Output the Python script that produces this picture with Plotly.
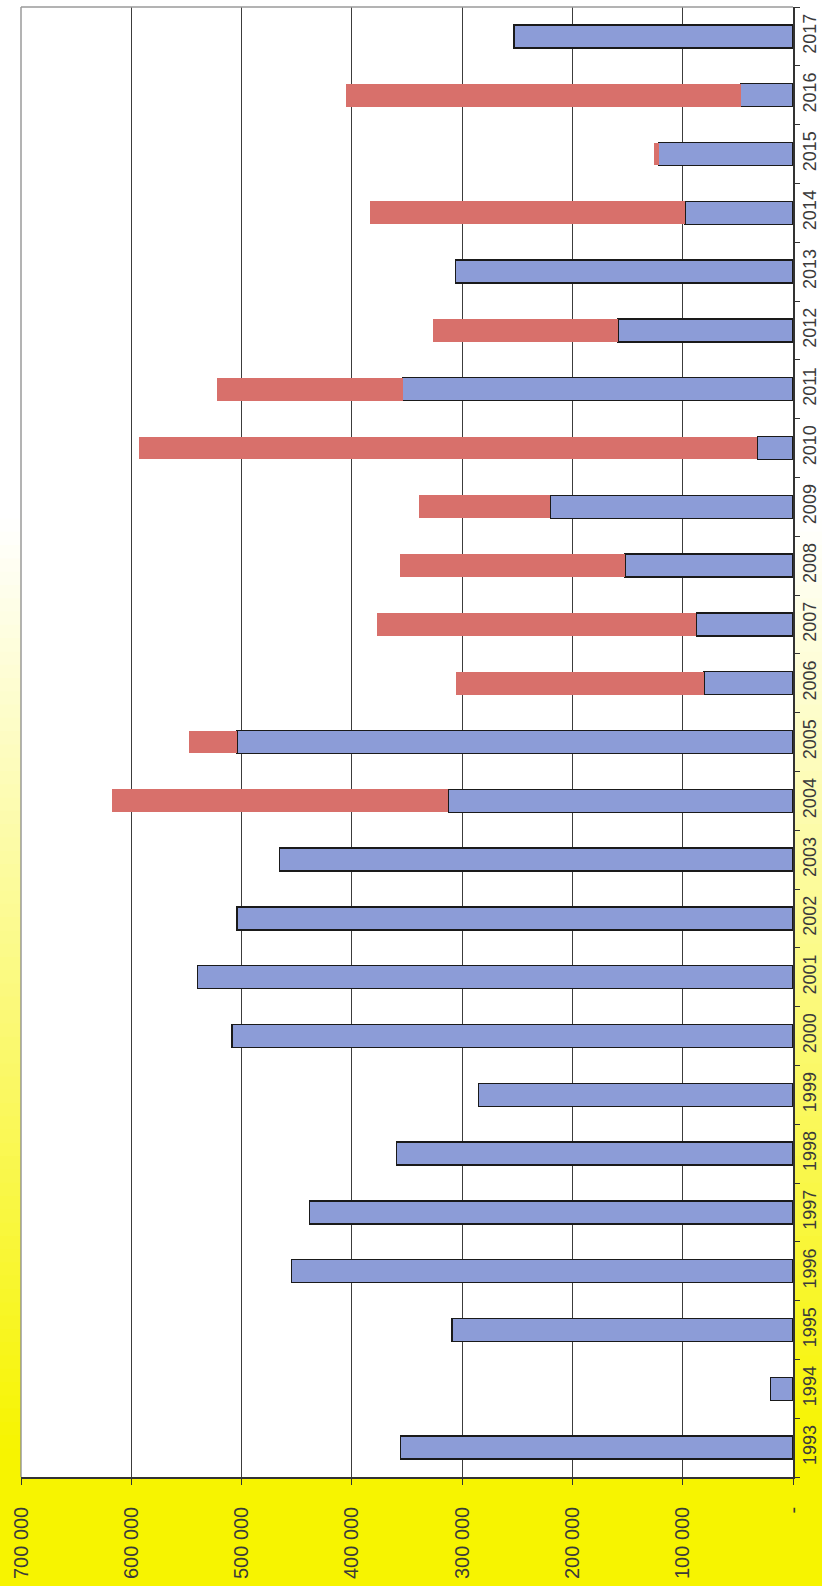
import plotly.graph_objects as go

years = [str(y) for y in range(1993, 2018)]
blue_values = [355700, 20300, 309000, 454700, 438200, 359400, 285100, 508800,
               540000, 504300, 465500, 312400, 504000, 80700, 87700, 152200,
               220000, 32200, 353900, 158700, 306200, 98100, 121900, 47500, 253000]
red_values = [0, 0, 0, 0, 0, 0, 0, 0,
              0, 0, 0, 304800, 43500, 224800, 289500, 203800,
              119200, 560800, 168300, 167700, 0, 285100, 3800, 357700, 0]
tick_values = [0, 100000, 200000, 300000, 400000, 500000, 600000, 700000]
tick_labels = ["-", "100 000", "200 000", "300 000", "400 000", "500 000", "600 000", "700 000"]

BLUE = "#8c9cd7"
RED = "#d8706b"
YELLOW = (247, 244, 0)
FONT = "Liberation Sans"

fig = go.Figure()
fig.add_trace(go.Bar(
    y=years, x=blue_values, orientation="h",
    marker=dict(color=BLUE, line=dict(color="#1a1a1a", width=1.5)),
    hoverinfo="skip",
))
fig.add_trace(go.Bar(
    y=years, x=red_values, orientation="h",
    marker=dict(color=RED, line=dict(color=RED, width=0)),
    hoverinfo="skip",
))

W, H = 822, 1586
ml, mr, mt, mb = 21, 29, 7, 109
pw = W - ml - mr
ph = H - mt - mb

shapes = []
ycol = "rgb(%d,%d,%d)" % YELLOW
shapes.append(dict(type="rect", xref="paper", yref="paper", x0=-0.1, x1=1.1,
                   y0=-0.2, y1=0, fillcolor=ycol, line=dict(width=0), layer="below"))
y_white = 520.0
y_full = 1450.0
n = 70
for i in range(n):
    p0 = y_white + (y_full - y_white) * i / n
    p1 = y_white + (y_full - y_white) * (i + 1) / n
    t = (i + 0.5) / n
    col = "rgb(%d,%d,%d)" % tuple(round(255 + (c - 255) * t) for c in YELLOW)
    for (xa, xb) in [(-0.1, 0), (1, 1.1)]:
        shapes.append(dict(type="rect", xref="paper", yref="paper", x0=xa, x1=xb,
                           y0=(H - mb - p1) / ph, y1=(H - mb - p0) / ph + 0.001,
                           fillcolor=col, line=dict(width=0), layer="below"))
for (xa, xb) in [(-0.1, 0), (1, 1.1)]:
    shapes.append(dict(type="rect", xref="paper", yref="paper", x0=xa, x1=xb,
                       y0=0, y1=(H - mb - y_full) / ph + 0.001,
                       fillcolor=ycol, line=dict(width=0), layer="below"))
shapes.append(dict(type="line", xref="paper", yref="paper", x0=0, x1=0, y0=0, y1=1,
                   line=dict(color="#8a8a8a", width=1.3), layer="above"))
shapes.append(dict(type="line", xref="paper", yref="paper", x0=0, x1=1, y0=1, y1=1,
                   line=dict(color="#9a9a9a", width=1.3), layer="above"))

fig.update_layout(
    width=W, height=H,
    margin=dict(l=ml, r=mr, t=mt, b=mb, autoexpand=False),
    barmode="stack",
    bargap=0.61,
    showlegend=False,
    paper_bgcolor="white",
    plot_bgcolor="white",
    font=dict(family=FONT, color="#3a3a3a"),
    shapes=shapes,
    xaxis=dict(
        range=[700000, 0],
        tickmode="array", tickvals=tick_values, ticktext=tick_labels,
        tickangle=-90,
        tickfont=dict(size=20, family=FONT, color="#3a3a3a"),
        ticks="outside", ticklen=6, tickcolor="#333", tickwidth=1.3,
        ticklabelstandoff=14,
        showgrid=True, gridcolor="#3c3c3c", gridwidth=1.3,
        showline=True, linecolor="#333", linewidth=1.5,
        zeroline=False, fixedrange=True, automargin=False,
    ),
    yaxis=dict(
        type="category", categoryorder="array", categoryarray=years,
        side="right",
        tickangle=-90,
        tickfont=dict(size=18, family=FONT, color="#3a3a3a"),
        ticks="outside", ticklen=5, tickcolor="#333", tickwidth=1.3,
        tickson="boundaries",
        ticklabelstandoff=0,
        showgrid=False,
        showline=True, linecolor="#333", linewidth=1.5,
        zeroline=False, fixedrange=True, automargin=False,
    ),
)

fig.write_html("out.html")
